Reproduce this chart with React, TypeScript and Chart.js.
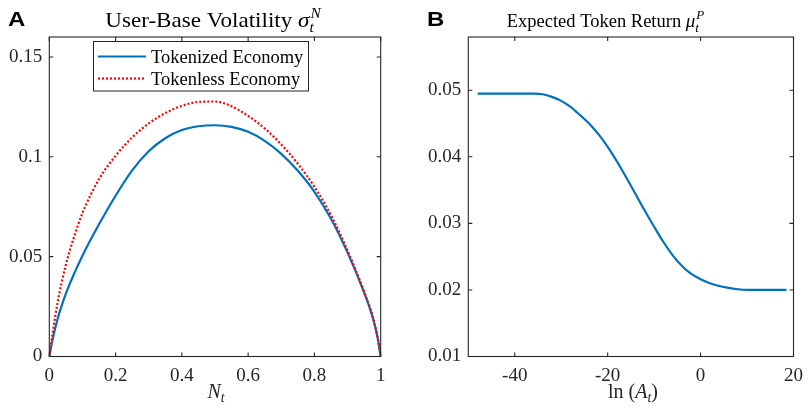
import React, { useEffect, useRef } from "react";
import { Chart, registerables } from "chart.js";

Chart.register(...registerables);

// ---------- Panel A data ----------
const userShare = [0, 0.01, 0.025, 0.05, 0.075, 0.1, 0.15, 0.2, 0.25, 0.3, 0.35, 0.4, 0.45, 0.5, 0.55, 0.6, 0.65, 0.7, 0.75, 0.8, 0.85, 0.9, 0.95, 0.975, 0.99, 1];
const tokenizedVol = [0, 0.0085, 0.0188, 0.0315, 0.0415, 0.0505, 0.0662, 0.0805, 0.0932, 0.1028, 0.1093, 0.1134, 0.1153, 0.1158, 0.115, 0.1125, 0.108, 0.1015, 0.093, 0.0825, 0.069, 0.052, 0.032, 0.02, 0.01, 0];
const tokenlessVol = [0, 0.0115, 0.027, 0.046, 0.06, 0.0718, 0.0888, 0.1005, 0.1097, 0.1167, 0.1219, 0.1255, 0.1275, 0.1277, 0.1253, 0.1205, 0.1142, 0.1062, 0.0965, 0.085, 0.0708, 0.053, 0.0325, 0.0205, 0.0102, 0];
const xTicksA = [0, 0.2, 0.4, 0.6, 0.8, 1];
const xTickLabelsA = ["0", "0.2", "0.4", "0.6", "0.8", "1"];
const yTicksA = [0, 0.05, 0.1, 0.15];
const yTickLabelsA = ["0", "0.05", "0.1", "0.15"];
const seriesLabels = ["Tokenized Economy", "Tokenless Economy"];

// ---------- Panel B data ----------
const lnA = [-48, -44, -40, -36, -34, -32, -30, -28, -26, -24, -22, -20, -18, -16, -14, -12, -10, -8, -6, -4, -2, 0, 2, 4, 6, 8, 10, 12, 14, 16, 18.5];
const expectedReturn = [0.0495, 0.0495, 0.0495, 0.0495, 0.0494, 0.049, 0.0484, 0.0475, 0.0463, 0.045, 0.0434, 0.0415, 0.0393, 0.0369, 0.0344, 0.0319, 0.0295, 0.0272, 0.0252, 0.0236, 0.0224, 0.0216, 0.021, 0.0206, 0.0203, 0.0201, 0.02, 0.02, 0.02, 0.02, 0.02];
const xTicksB = [-40, -20, 0, 20];
const xTickLabelsB = ["-40", "-20", "0", "20"];
const yTicksB = [0.01, 0.02, 0.03, 0.04, 0.05];
const yTickLabelsB = ["0.01", "0.02", "0.03", "0.04", "0.05"];

const SERIF = '"Liberation Serif", "Times New Roman", serif';
const SANS = '"Liberation Sans", Arial, sans-serif';
const AXIS_COLOR = "#262626";
const BLUE = "#0072BD";
const RED = "#FF0000";

type Seg = { t?: string; it?: boolean; sz: number; sup?: string; sub?: string; supDy?: number; subDy?: number };

function fontStr(size: number, italic?: boolean) {
  return `${italic ? "italic " : ""}${size}px ${SERIF}`;
}

function segWidth(ctx: CanvasRenderingContext2D, s: Seg) {
  if (s.t !== undefined) {
    ctx.font = fontStr(s.sz, s.it);
    return ctx.measureText(s.t).width;
  }
  ctx.font = fontStr(s.sz, true);
  return Math.max(s.sup ? ctx.measureText(s.sup).width : 0, s.sub ? ctx.measureText(s.sub).width : 0);
}

function drawRich(ctx: CanvasRenderingContext2D, segs: Seg[], cx: number, baseline: number, color: string, sx = 1) {
  const widths = segs.map((s) => segWidth(ctx, s));
  const total = widths.reduce((a, b) => a + b, 0);
  ctx.save();
  ctx.translate(cx, baseline);
  ctx.scale(sx, 1);
  let x = -total / 2;
  ctx.fillStyle = color;
  ctx.textAlign = "left";
  ctx.textBaseline = "alphabetic";
  segs.forEach((s, i) => {
    if (s.t !== undefined) {
      ctx.font = fontStr(s.sz, s.it);
      ctx.fillText(s.t, x, 0);
    } else {
      ctx.font = fontStr(s.sz, true);
      if (s.sup) ctx.fillText(s.sup, x + 1, s.supDy ?? -8);
      if (s.sub) ctx.fillText(s.sub, x, s.subDy ?? 5);
    }
    x += widths[i];
  });
  ctx.restore();
}

type Decor = {
  letter: string;
  letterX: number;
  title: Seg[];
  titleCx: number;
  titleSx: number;
  xlabel: Seg[];
  xlabelCx: number;
  legend: boolean;
};

function makeDecorPlugin(d: Decor) {
  return {
    id: "matlabDecor",
    afterDraw(chart: any) {
      const ctx: CanvasRenderingContext2D = chart.ctx;
      const { left, right, top, bottom } = chart.chartArea;
      const xs = chart.scales.x;
      const ys = chart.scales.y;
      const tl = 4;
      ctx.save();
      ctx.strokeStyle = AXIS_COLOR;
      ctx.lineWidth = 1.1;
      ctx.strokeRect(left, top, right - left, bottom - top);
      ctx.beginPath();
      xs.ticks.forEach((t: any) => {
        const px = xs.getPixelForValue(t.value);
        ctx.moveTo(px, bottom);
        ctx.lineTo(px, bottom - tl);
        ctx.moveTo(px, top);
        ctx.lineTo(px, top + tl);
      });
      ys.ticks.forEach((t: any) => {
        const py = ys.getPixelForValue(t.value);
        ctx.moveTo(left, py);
        ctx.lineTo(left + tl, py);
        ctx.moveTo(right, py);
        ctx.lineTo(right - tl, py);
      });
      ctx.stroke();

      // panel letter
      ctx.save();
      ctx.fillStyle = "#000";
      ctx.font = `bold 20px ${SANS}`;
      ctx.textAlign = "left";
      ctx.textBaseline = "alphabetic";
      ctx.translate(d.letterX, 26);
      ctx.scale(1.2, 1);
      ctx.fillText(d.letter, 0, 0);
      ctx.restore();

      drawRich(ctx, d.title, d.titleCx, 27, "#000", d.titleSx);
      drawRich(ctx, d.xlabel, d.xlabelCx, 398, AXIS_COLOR);

      if (d.legend) {
        const ds = chart.data.datasets;
        const bx = 93.5, by = 41.5, bw = 215, bh = 49.5;
        ctx.fillStyle = "#fff";
        ctx.fillRect(bx, by, bw, bh);
        ctx.strokeStyle = AXIS_COLOR;
        ctx.lineWidth = 1;
        ctx.strokeRect(bx, by, bw, bh);
        const rows = [56.5, 78.5];
        ds.forEach((dset: any, i: number) => {
          ctx.save();
          ctx.strokeStyle = dset.borderColor;
          ctx.lineWidth = dset.borderWidth;
          ctx.setLineDash(dset.borderDash || []);
          ctx.beginPath();
          ctx.moveTo(98, rows[i]);
          ctx.lineTo(146, rows[i]);
          ctx.stroke();
          ctx.restore();
          ctx.fillStyle = "#000";
          ctx.font = `18.5px ${SERIF}`;
          ctx.textAlign = "left";
          ctx.textBaseline = "alphabetic";
          ctx.fillText(dset.label, 151, rows[i] + 6);
        });
      }
      ctx.restore();
    },
  };
}

function axisOptions(
  min: number,
  max: number,
  ticks: number[],
  labels: string[],
  fit: (s: any) => void,
  padding: number
) {
  return {
    type: "linear" as const,
    min,
    max,
    grid: { display: false, drawTicks: false },
    border: { display: false },
    ticks: {
      autoSkip: false,
      maxRotation: 0,
      padding,
      color: AXIS_COLOR,
      font: { family: SERIF, size: 19 },
      callback: (_v: any, i: number) => labels[i],
    },
    afterBuildTicks: (s: any) => {
      s.ticks = ticks.map((v) => ({ value: v }));
    },
    afterFit: fit,
  };
}

function ChartCanvas({ width, left, build }: { width: number; left: number; build: (c: HTMLCanvasElement) => Chart }) {
  const ref = useRef<HTMLCanvasElement | null>(null);
  useEffect(() => {
    if (!ref.current) return;
    const ch = build(ref.current);
    return () => ch.destroy();
  }, []);
  return (
    <canvas
      ref={ref}
      width={width}
      height={409}
      style={{ position: "absolute", left, top: 0, width, height: 409 }}
    />
  );
}

function buildA(canvas: HTMLCanvasElement) {
  const decor = makeDecorPlugin({
    letter: "A",
    letterX: 8,
    title: [
      { t: "User-Base Volatility ", sz: 21 },
      { t: "σ", it: true, sz: 21 },
      { sup: "N", sub: "t", sz: 14, supDy: -9, subDy: 5 },
    ],
    titleCx: 212.5,
    titleSx: 1.1,
    xlabel: [
      { t: "N", it: true, sz: 20 },
      { sub: "t", sz: 14, subDy: 4 },
    ],
    xlabelCx: 216,
    legend: true,
  });
  return new Chart(canvas, {
    type: "line",
    data: {
      datasets: [
        {
          label: seriesLabels[0],
          data: userShare.map((x, i) => ({ x, y: tokenizedVol[i] })),
          borderColor: BLUE,
          borderWidth: 2.2,
          pointRadius: 0,
          cubicInterpolationMode: "monotone",
          order: 1,
        },
        {
          label: seriesLabels[1],
          data: userShare.map((x, i) => ({ x, y: tokenlessVol[i] })),
          borderColor: RED,
          borderWidth: 2.2,
          borderDash: [2, 2],
          pointRadius: 0,
          cubicInterpolationMode: "monotone",
          order: 0,
        },
      ],
    },
    options: {
      responsive: false,
      animation: false,
      devicePixelRatio: 1,
      layout: { padding: { left: 0, right: 24.3, top: 37, bottom: 0 } },
      plugins: { legend: { display: false }, title: { display: false }, tooltip: { enabled: false } },
      scales: {
        x: axisOptions(0, 1, xTicksA, xTickLabelsA, (s) => { s.height = 409 - 356.5; }, 8),
        y: axisOptions(0, 0.16, yTicksA, yTickLabelsA, (s) => { s.width = 49.3; }, 7),
      },
    } as any,
    plugins: [decor],
  });
}

function buildB(canvas: HTMLCanvasElement) {
  const decor = makeDecorPlugin({
    letter: "B",
    letterX: 22,
    title: [
      { t: "Expected Token Return ", sz: 18.5 },
      { t: "μ", it: true, sz: 19 },
      { sup: "P", sub: "t", sz: 13, supDy: -8, subDy: 5 },
    ],
    titleCx: 200,
    titleSx: 1,
    xlabel: [
      { t: "ln (", sz: 20 },
      { t: "A", it: true, sz: 20 },
      { sub: "t", sz: 14, subDy: 4 },
      { t: ")", sz: 20 },
    ],
    xlabelCx: 228,
    legend: false,
  });
  return new Chart(canvas, {
    type: "line",
    data: {
      datasets: [
        {
          label: "Expected Token Return",
          data: lnA.map((x, i) => ({ x, y: expectedReturn[i] })),
          borderColor: BLUE,
          borderWidth: 2.2,
          pointRadius: 0,
          cubicInterpolationMode: "monotone",
        },
      ],
    },
    options: {
      responsive: false,
      animation: false,
      devicePixelRatio: 1,
      layout: { padding: { left: 0, right: 11, top: 37, bottom: 0 } },
      plugins: { legend: { display: false }, title: { display: false }, tooltip: { enabled: false } },
      scales: {
        x: axisOptions(-50, 20, xTicksB, xTickLabelsB, (s) => { s.height = 409 - 356.5; }, 8),
        y: axisOptions(0.01, 0.058, yTicksB, yTickLabelsB, (s) => { s.width = 63.3; }, 7),
      },
    } as any,
    plugins: [decor],
  });
}

export default function App() {
  return (
    <div style={{ position: "fixed", left: 0, top: 0, width: 811, height: 409, background: "#fff" }}>
      <ChartCanvas width={405} left={0} build={buildA} />
      <ChartCanvas width={406} left={405} build={buildB} />
    </div>
  );
}
